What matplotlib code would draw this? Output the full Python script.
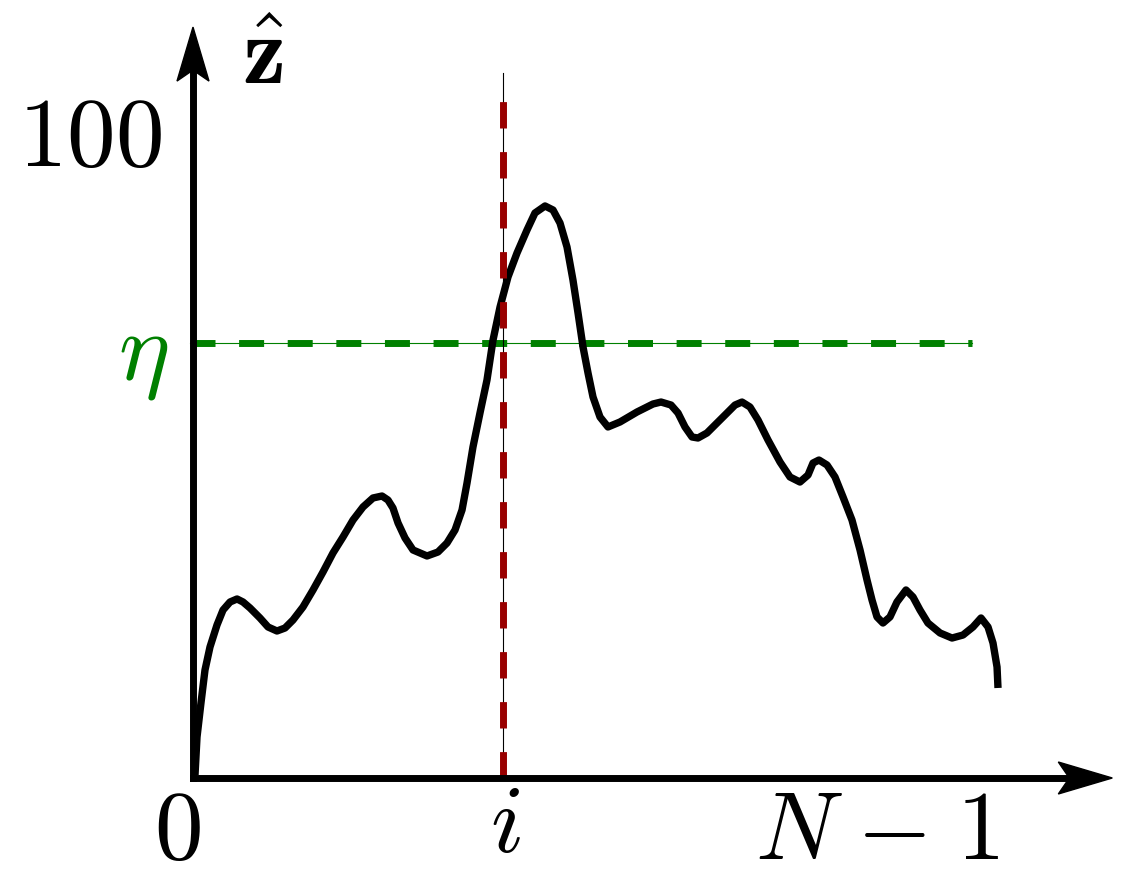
import numpy as np
import matplotlib
matplotlib.use('Agg')
import matplotlib.pyplot as plt
from matplotlib.patches import Polygon

plt.rcParams['mathtext.fontset'] = 'cm'

# curve values (x: 0..100 index scale, y: 0..100 score scale)
curve_x = [0.25, 0.50, 0.99, 1.49, 2.11, 2.98, 3.73, 4.60, 5.47, 6.21, 7.08,
           8.32, 9.32, 10.43, 11.43, 12.42, 13.66, 14.91, 16.15, 17.39, 18.63,
           19.88, 21.12, 22.36, 23.48, 24.22, 24.84, 25.47, 26.34, 27.33, 29.07,
           30.43, 31.55, 32.55, 33.42, 34.04, 34.78, 35.65, 36.52, 37.27, 38.14,
           39.13, 40.25, 41.49, 42.48, 43.73, 44.72, 45.59, 46.46, 47.20, 47.83,
           48.45, 49.07, 49.69, 50.56, 51.55, 53.04, 55.16, 57.14, 58.14, 59.38,
           60.25, 61.12, 61.99, 62.73, 63.85, 65.09, 66.34, 67.33, 68.20, 69.19,
           70.19, 71.43, 72.92, 74.16, 75.40, 76.40, 77.02, 77.76, 78.76, 79.75,
           80.75, 81.86, 82.86, 83.73, 84.35, 84.97, 85.71, 86.58, 87.45, 88.57,
           89.44, 90.31, 91.30, 92.80, 94.29, 95.65, 96.89, 97.89, 98.76, 99.38,
           99.88, 100.0]
curve_y = [0.47, 6.43, 11.76, 16.93, 20.53, 23.98, 26.33, 27.59, 28.06, 27.59,
           26.65, 25.08, 23.67, 23.04, 23.51, 24.76, 26.80, 29.47, 32.29, 35.27,
           37.77, 40.44, 42.48, 43.89, 44.20, 43.57, 42.32, 39.97, 37.62, 35.74,
           34.80, 35.42, 36.83, 38.87, 42.01, 46.24, 51.88, 57.21, 62.38, 68.65,
           73.82, 78.53, 82.29, 85.89, 88.56, 89.66, 89.03, 86.99, 83.23, 78.06,
           72.88, 67.55, 63.48, 59.72, 56.58, 55.02, 55.80, 57.37, 58.62, 58.93,
           58.46, 57.21, 55.02, 53.45, 53.29, 54.08, 55.64, 57.21, 58.46, 58.93,
           58.15, 56.11, 52.98, 49.53, 47.18, 46.39, 47.49, 49.37, 49.84, 49.06,
           47.18, 44.04, 40.44, 35.74, 31.03, 27.90, 25.24, 24.29, 25.24, 27.59,
           29.47, 28.37, 26.33, 24.29, 22.73, 21.94, 22.41, 23.67, 25.08, 23.67,
           21.16, 17.40, 14.11]

i_pos = 38.5       # index i (red line)
eta = 68.2         # threshold eta (green line)
y_top_label = 100

# pixel -> data scale of this drawing
sx = 8.05
sy = 6.38

fig = plt.figure(figsize=(11.31, 8.82), dpi=100)
ax = fig.add_axes([0, 0, 1, 1])
ax.set_xlim(-193 / sx, (1131 - 193) / sx)
ax.set_ylim(-104 / sy, 778 / sy)
ax.axis('off')

# threshold line
ax.plot([-0.4, 96.8], [eta, eta], color='green', lw=0.8, zorder=2)
ax.plot([-0.4, 96.8], [eta, eta], color='green', lw=5, dashes=(3.6, 3.4), zorder=2)

# curve
ax.plot(curve_x, curve_y, color='black', lw=5.3, solid_joinstyle='round',
        solid_capstyle='butt', zorder=3)

# index line
ax.plot([i_pos, i_pos], [0, 110.5], color='black', lw=0.8, zorder=4)
ax.plot([i_pos, i_pos], [0, 107], color='#990000', lw=5, dashes=(3.8, 3.4), zorder=4)

# axes with stealth arrow heads
y_tip = 117.7
x_tip = 114.2
ax.plot([0, 0], [0, y_tip - 45 / sy], color='black', lw=5, solid_capstyle='projecting', zorder=5)
ax.plot([0, x_tip - 45 / sx], [0, 0], color='black', lw=5, solid_capstyle='projecting', zorder=5)
hl, hw, nt = 54, 16, 43
ax.add_patch(Polygon([(0, y_tip), (-hw / sx, y_tip - hl / sy), (0, y_tip - nt / sy),
                      (hw / sx, y_tip - hl / sy)], closed=True, color='black', zorder=6))
ax.add_patch(Polygon([(x_tip, 0), (x_tip - hl / sx, hw / sy), (x_tip - nt / sx, 0),
                      (x_tip - hl / sx, -hw / sy)], closed=True, color='black', zorder=6))

# labels
fs = 70
ax.text(-12.8, y_top_label, r'$100$', fontsize=fs, ha='center', va='center')
ax.text(-1.9, -8.5, r'$0$', fontsize=fs, ha='center', va='center')
ax.text(i_pos + 0.3, -7.4, r'$i$', fontsize=fs, ha='center', va='center')
ax.text(85.0, -8.5, r'$N\hspace{0.08}-\hspace{0.08}1$', fontsize=fs, ha='center', va='center')
ax.text(-6.2, eta - 1.9, r'$\eta$', fontsize=fs, ha='center', va='center', color='green')
ax.text(8.7, 113.0, r'$\hat{\mathbf{z}}$', fontsize=70, ha='center', va='center')

plt.savefig('out.png', dpi=100)
